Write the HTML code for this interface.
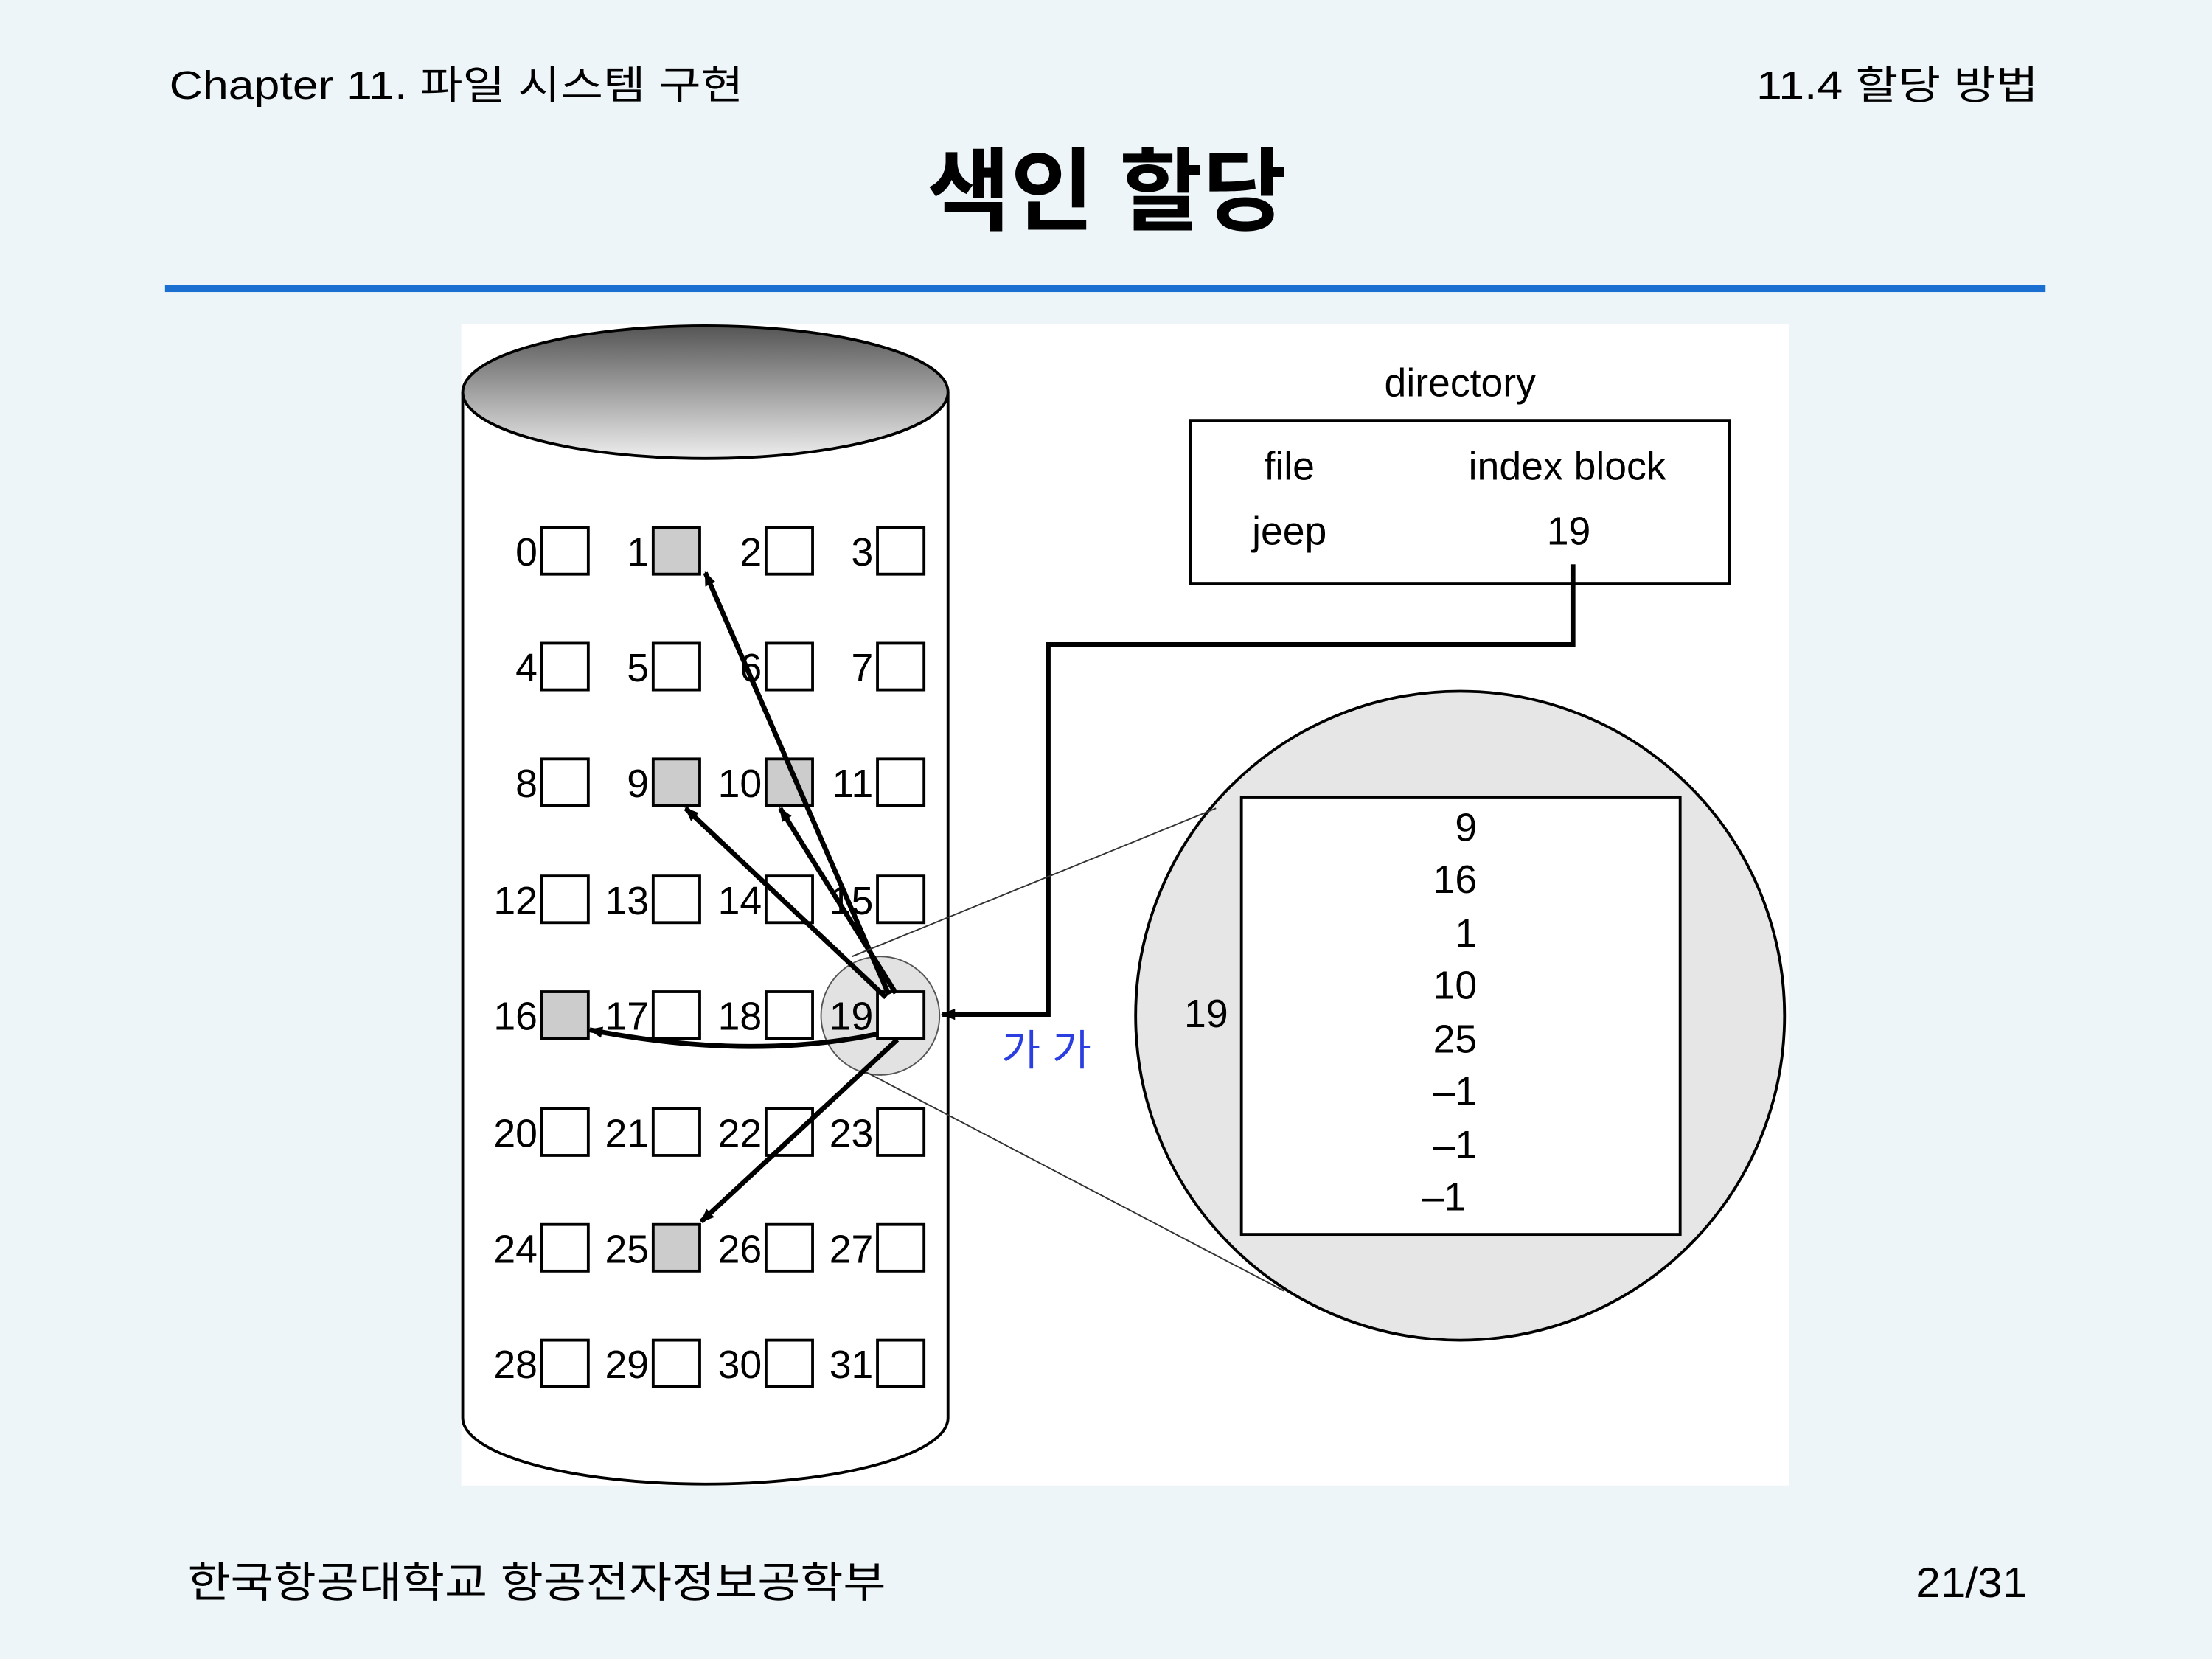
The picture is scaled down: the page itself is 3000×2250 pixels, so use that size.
<!DOCTYPE html>
<html><head><meta charset="utf-8"><style>
html,body{margin:0;padding:0;background:#eef5f9;}
svg{display:block;}
text{font-family:"Liberation Sans","Noto Sans CJK KR",sans-serif;}
</style></head><body>
<svg width="3000" height="2250" viewBox="0 0 1568 1176" xmlns="http://www.w3.org/2000/svg">
<defs>
<linearGradient id="g" x1="0" y1="0" x2="0" y2="1">
<stop offset="0" stop-color="#555"/><stop offset="1" stop-color="#eee"/></linearGradient>
<marker id="a" markerWidth="10" markerHeight="10" refX="9" refY="5" orient="auto" markerUnits="userSpaceOnUse">
<path d="M0,1 L10,5 L0,9 z" fill="#000"/></marker>
</defs>
<rect width="1568" height="1176" fill="#eef5f9"/>
<text x="120" y="70" font-size="28" textLength="407" lengthAdjust="spacingAndGlyphs">Chapter 11. 파일 시스템 구현</text>
<text x="1245" y="70" font-size="28" textLength="200" lengthAdjust="spacingAndGlyphs">11.4 할당 방법</text>
<text x="657" y="158" font-size="64" font-weight="bold" textLength="255" lengthAdjust="spacingAndGlyphs">색인 할당</text>
<rect x="117" y="202" width="1333" height="5" fill="#1a6fd0"/>
<rect x="327" y="230" width="941" height="823" fill="#fff"/>
<!-- cylinder -->
<path d="M328,278 L328,1005 A172,47 0 0 0 672,1005 L672,278" fill="#fff" stroke="#000" stroke-width="2"/>
<ellipse cx="500" cy="278" rx="172" ry="47" fill="url(#g)" stroke="#000" stroke-width="2"/>
<circle cx="624" cy="720" r="42" fill="#e2e2e2" stroke="#555" stroke-width="1"/>
<g font-size="28">
<g fill="#fff" stroke="#000" stroke-width="2">
<rect x="384" y="374" width="33" height="33"/><rect x="463" y="374" width="33" height="33" fill="#ccc"/><rect x="543" y="374" width="33" height="33"/><rect x="622" y="374" width="33" height="33"/>
<rect x="384" y="456" width="33" height="33"/><rect x="463" y="456" width="33" height="33"/><rect x="543" y="456" width="33" height="33"/><rect x="622" y="456" width="33" height="33"/>
<rect x="384" y="538" width="33" height="33"/><rect x="463" y="538" width="33" height="33" fill="#ccc"/><rect x="543" y="538" width="33" height="33" fill="#ccc"/><rect x="622" y="538" width="33" height="33"/>
<rect x="384" y="621" width="33" height="33"/><rect x="463" y="621" width="33" height="33"/><rect x="543" y="621" width="33" height="33"/><rect x="622" y="621" width="33" height="33"/>
<rect x="384" y="703" width="33" height="33" fill="#ccc"/><rect x="463" y="703" width="33" height="33"/><rect x="543" y="703" width="33" height="33"/><rect x="622" y="703" width="33" height="33"/>
<rect x="384" y="786" width="33" height="33"/><rect x="463" y="786" width="33" height="33"/><rect x="543" y="786" width="33" height="33"/><rect x="622" y="786" width="33" height="33"/>
<rect x="384" y="868" width="33" height="33"/><rect x="463" y="868" width="33" height="33" fill="#ccc"/><rect x="543" y="868" width="33" height="33"/><rect x="622" y="868" width="33" height="33"/>
<rect x="384" y="950" width="33" height="33"/><rect x="463" y="950" width="33" height="33"/><rect x="543" y="950" width="33" height="33"/><rect x="622" y="950" width="33" height="33"/>
</g>
<g text-anchor="end">
<text x="381" y="401">0</text><text x="460" y="401">1</text><text x="540" y="401">2</text><text x="619" y="401">3</text>
<text x="381" y="483">4</text><text x="460" y="483">5</text><text x="540" y="483">6</text><text x="619" y="483">7</text>
<text x="381" y="565">8</text><text x="460" y="565">9</text><text x="540" y="565">10</text><text x="619" y="565">11</text>
<text x="381" y="648">12</text><text x="460" y="648">13</text><text x="540" y="648">14</text><text x="619" y="648">15</text>
<text x="381" y="730">16</text><text x="460" y="730">17</text><text x="540" y="730">18</text><text x="619" y="730">19</text>
<text x="381" y="813">20</text><text x="460" y="813">21</text><text x="540" y="813">22</text><text x="619" y="813">23</text>
<text x="381" y="895">24</text><text x="460" y="895">25</text><text x="540" y="895">26</text><text x="619" y="895">27</text>
<text x="381" y="977">28</text><text x="460" y="977">29</text><text x="540" y="977">30</text><text x="619" y="977">31</text>
</g>
</g>
<!-- arrows -->
<g stroke="#000" stroke-width="3.5" fill="none" marker-end="url(#a)">
<line x1="630" y1="705" x2="500" y2="406"/>
<line x1="628" y1="707" x2="486" y2="573"/>
<line x1="635" y1="704" x2="553" y2="573"/>
<path d="M622,733 Q530,752 418,730"/>
<line x1="636" y1="737" x2="497" y2="866"/>
<polyline points="1115,400 1115,457 743,457 743,719 668,719"/>
</g>
<!-- directory -->
<text x="1035" y="281" font-size="28" text-anchor="middle">directory</text>
<rect x="844" y="298" width="382" height="116" fill="#fff" stroke="#000" stroke-width="2"/>
<line x1="1115" y1="400" x2="1115" y2="414" stroke="#000" stroke-width="3.5"/>
<g font-size="28" text-anchor="middle">
<text x="914" y="340">file</text><text x="1111" y="340">index block</text>
<text x="914" y="386">jeep</text><text x="1112" y="386">19</text>
</g>
<!-- big circle -->
<circle cx="1035" cy="720" r="230" fill="#e6e6e6" stroke="#000" stroke-width="2"/>
<line x1="604" y1="678" x2="862" y2="573" stroke="#333" stroke-width="1"/>
<line x1="614" y1="760" x2="910" y2="915" stroke="#333" stroke-width="1"/>
<rect x="880" y="565" width="311" height="310" fill="#fff" stroke="#000" stroke-width="2"/>
<g font-size="28" text-anchor="end">
<text x="1047" y="596">9</text><text x="1047" y="633">16</text><text x="1047" y="671">1</text>
<text x="1047" y="708">10</text><text x="1047" y="746">25</text><text x="1047" y="783">–1</text>
<text x="1047" y="821">–1</text><text x="1039" y="858">–1</text>
</g>
<text x="855" y="728" font-size="28" text-anchor="middle">19</text>
<text x="710" y="755" font-size="30" fill="#2b3fe0">가 가</text>
<text x="133" y="1132" font-size="30" textLength="495" lengthAdjust="spacingAndGlyphs">한국항공대학교 항공전자정보공학부</text>
<text x="1358" y="1132" font-size="30" textLength="79" lengthAdjust="spacingAndGlyphs">21/31</text>
</svg>
</body></html>
